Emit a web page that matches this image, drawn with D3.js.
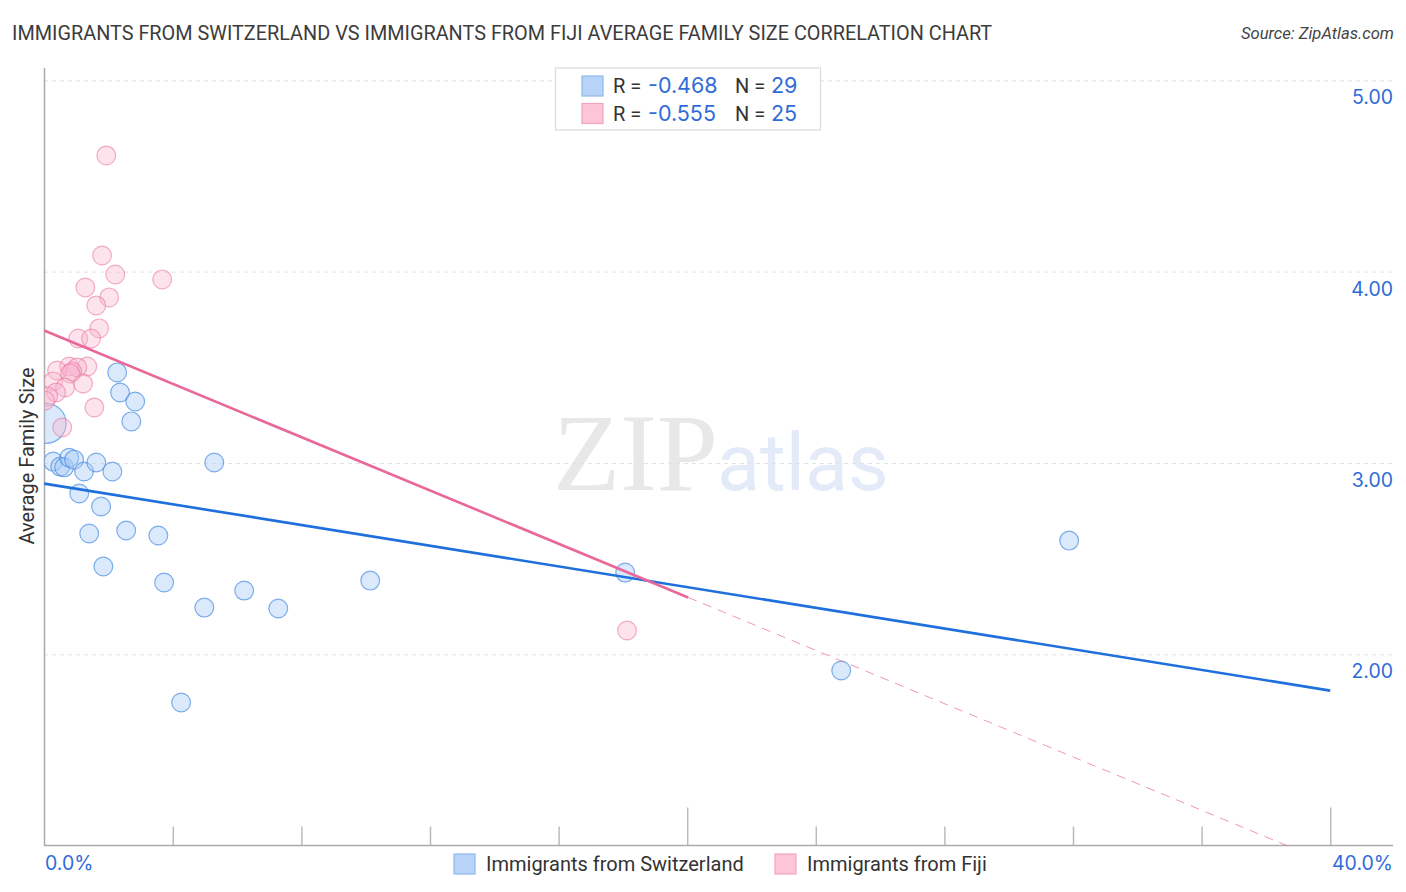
<!DOCTYPE html>
<html>
<head>
<meta charset="utf-8">
<script src="https://cdn.jsdelivr.net/npm/d3@7"></script>
<style>
  html, body { margin: 0; padding: 0; background: #fff; }
  text { font-family: Roboto, sans-serif; }
  .val { font-family: Inter, sans-serif; }
</style>
</head>
<body>
<div id="chart"></div>
<script>
const title = 'IMMIGRANTS FROM SWITZERLAND VS IMMIGRANTS FROM FIJI AVERAGE FAMILY SIZE CORRELATION CHART';
const source = 'Source: ZipAtlas.com';
const yLabel = 'Average Family Size';
const seriesNames = ['Immigrants from Switzerland', 'Immigrants from Fiji'];
const rValues = ['-0.468', '-0.555'];
const nValues = ['29', '25'];

const yTicks = [2, 3, 4, 5];
const xTicks = [0, 4, 8, 12, 16, 20, 24, 28, 32, 36, 40];

// percent, family size
const swissX = [0.06, 0.28, 0.5, 0.62, 0.78, 0.93, 1.24, 1.62, 2.12, 1.09, 1.77, 1.40, 2.55, 3.55, 1.84, 3.73, 4.98, 6.22, 7.28, 10.14, 5.29, 2.27, 2.36, 2.83, 2.71, 4.26, 18.07, 24.79, 31.88];
const swissY = [3.21, 3.01, 2.984, 2.98, 3.03, 3.02, 2.958, 3.005, 2.958, 2.843, 2.775, 2.634, 2.65, 2.624, 2.462, 2.378, 2.247, 2.336, 2.242, 2.388, 3.005, 3.476, 3.371, 3.324, 3.22, 1.751, 2.43, 1.918, 2.597];
const swissSize = [20, 9.4, 9.4, 9.4, 9.4, 9.4, 9.4, 9.4, 9.4, 9.4, 9.4, 9.4, 9.4, 9.4, 9.4, 9.4, 9.4, 9.4, 9.4, 9.4, 9.4, 9.4, 9.4, 9.4, 9.4, 9.4, 9.4, 9.4, 9.4];

const fijiX = [1.93, 1.80, 2.21, 3.67, 1.28, 2.02, 1.62, 1.71, 1.06, 1.46, 0.78, 1.34, 1.03, 0.87, 0.40, 0.81, 0.28, 1.21, 0.65, 0.37, 1.56, 0.56, 0.12, 0.03, 18.13];
const fijiY = [4.61, 4.087, 3.988, 3.962, 3.92, 3.868, 3.826, 3.706, 3.653, 3.653, 3.507, 3.507, 3.502, 3.481, 3.486, 3.47, 3.429, 3.418, 3.397, 3.371, 3.293, 3.188, 3.35, 3.329, 2.127];

const swissTrend = [[0, 2.895], [40, 1.813]];
const fijiTrend = [[0, 3.695], [20.03, 2.30]];
const fijiTrendDash = [[20.03, 2.30], [38.7, 1.0]];

const width = 1406, height = 892;
const blue = '#1f6fdc', pink = '#e9689a', tickBlue = '#2f6cd8';

const x = d3.scaleLinear().domain([0, 40]).range([44.2, 1330.2]);
const y = d3.scaleLinear().domain([1, 5]).range([846.2, 80.8]);

const svg = d3.select('#chart').append('svg')
  .attr('width', width)
  .attr('height', height)
  .style('display', 'block');

svg.append('text').attr('x', 12).attr('y', 40)
  .attr('font-size', 19.85).attr('fill', '#3c3c3c').text(title);
svg.append('text').attr('x', 1394).attr('y', 39)
  .attr('text-anchor', 'end').attr('font-size', 16.6).attr('font-style', 'italic')
  .attr('fill', '#444').text(source);

// watermark
svg.append('text').attr('x', 553).attr('y', 490)
  .style('font-family', 'Liberation Serif').attr('font-size', 110)
  .attr('fill', '#e8e8e8').text('ZIP');
svg.append('text').attr('x', 717).attr('y', 490)
  .attr('font-size', 79).attr('fill', '#e3ebf9').text('atlas');

// gridlines
svg.append('g').selectAll('line')
  .data(yTicks).enter().append('line')
  .attr('x1', 44).attr('x2', 1393)
  .attr('y1', d => y(d)).attr('y2', d => y(d))
  .attr('stroke', '#e2e2e2').attr('stroke-dasharray', '4 4');

// axes
const xAxis = d3.axisBottom(x).tickValues(xTicks.slice(1)).tickSize(-19).tickFormat('');
const gx = svg.append('g').attr('transform', 'translate(0,845.5)').call(xAxis);
gx.select('.domain').remove();
gx.selectAll('.tick line').attr('stroke', '#bbb').attr('stroke-width', 1.5);
gx.selectAll('.tick line').filter(d => d === 20 || d === 40).attr('y2', -38);
svg.append('line').attr('x1', 44).attr('x2', 1393).attr('y1', 845.5).attr('y2', 845.5)
  .attr('stroke', '#aaa').attr('stroke-width', 1.5);
svg.append('line').attr('x1', 44.5).attr('x2', 44.5).attr('y1', 68).attr('y2', 845.5)
  .attr('stroke', '#aaa').attr('stroke-width', 1.5);

const yAxis = d3.axisRight(y).tickValues(yTicks).tickSize(0).tickFormat(d3.format('.2f'));
const gy = svg.append('g').attr('transform', 'translate(1393,0)').call(yAxis);
gy.select('.domain').remove();
gy.selectAll('text').attr('x', 0).attr('dy', 0)
  .attr('transform', 'translate(0,23)')
  .attr('text-anchor', 'end').attr('font-size', 19.5).attr('class', 'val')
  .attr('font-weight', 400).attr('fill', tickBlue);

svg.append('text').attr('class', 'val').attr('x', 45).attr('y', 870).attr('font-size', 19.5)
  .attr('font-weight', 400).attr('fill', tickBlue).text('0.0%');
svg.append('text').attr('class', 'val').attr('x', 1393).attr('y', 870).attr('text-anchor', 'end')
  .attr('font-size', 19.5).attr('font-weight', 400).attr('fill', tickBlue).text('40.0%');

svg.append('text')
  .attr('transform', 'translate(34,456) rotate(-90)')
  .attr('text-anchor', 'middle').attr('font-size', 20).attr('fill', '#333').text(yLabel);

// points
svg.append('clipPath').attr('id', 'plot').append('rect')
  .attr('x', 44.5).attr('y', 60).attr('width', 1360).attr('height', 786);

const dots = svg.append('g').attr('clip-path', 'url(#plot)');
dots.selectAll('circle.swiss')
  .data(swissX).enter().append('circle').attr('class', 'swiss')
  .attr('cx', d => x(d))
  .attr('cy', (d, i) => y(swissY[i]))
  .attr('r', (d, i) => swissSize[i])
  .attr('fill', '#a8caf5').attr('fill-opacity', 0.42)
  .attr('stroke', '#3f85e0').attr('stroke-opacity', 0.65).attr('stroke-width', 1.2);
dots.selectAll('circle.fiji')
  .data(fijiX).enter().append('circle').attr('class', 'fiji')
  .attr('cx', d => x(d))
  .attr('cy', (d, i) => y(fijiY[i]))
  .attr('r', 9.4)
  .attr('fill', '#f8b6cc').attr('fill-opacity', 0.38)
  .attr('stroke', '#ea7ba3').attr('stroke-opacity', 0.6).attr('stroke-width', 1.2);

// trend lines
const line = d3.line().x(d => x(d[0])).y(d => y(d[1]));
svg.append('path').attr('d', line(swissTrend)).attr('fill', 'none')
  .attr('stroke', blue).attr('stroke-width', 2.6);
svg.append('path').attr('d', line(fijiTrend)).attr('fill', 'none')
  .attr('stroke', pink).attr('stroke-width', 2.6);
svg.append('path').attr('d', line(fijiTrendDash)).attr('fill', 'none')
  .attr('stroke', pink).attr('stroke-width', 1).attr('stroke-dasharray', '9 7').attr('stroke-opacity', 0.7);

// top legend
const legend = svg.append('g');
legend.append('rect').attr('x', 555.5).attr('y', 68).attr('width', 265).attr('height', 62)
  .attr('fill', '#fff').attr('stroke', '#d9d9d9').attr('stroke-width', 1.2);
const rows = legend.selectAll('g').data(seriesNames).enter().append('g')
  .attr('transform', (d, i) => 'translate(0,' + (i * 27.5) + ')');
rows.append('rect').attr('x', 582).attr('y', 76).attr('width', 21).attr('height', 20)
  .attr('fill', (d, i) => i ? '#fcc6d8' : '#b7d3f8')
  .attr('stroke', (d, i) => i ? '#f2a3bf' : '#8fb8ec').attr('stroke-width', 1.2);
rows.append('text').attr('x', 613).attr('y', 93).attr('font-size', 20).attr('fill', '#333').text('R =');
rows.append('text').attr('class', 'val').attr('x', 648).attr('y', 93).attr('font-size', 21.5)
  .attr('font-weight', 400).attr('fill', tickBlue).text((d, i) => rValues[i]);
rows.append('text').attr('x', 735).attr('y', 93).attr('font-size', 20).attr('fill', '#333').text('N =');
rows.append('text').attr('class', 'val').attr('x', 771).attr('y', 93).attr('font-size', 21.5)
  .attr('font-weight', 400).attr('fill', tickBlue).text((d, i) => nValues[i]);

// bottom legend
const bottomX = [454, 775];
const bottom = svg.append('g').selectAll('g').data(seriesNames).enter().append('g')
  .attr('transform', (d, i) => 'translate(' + bottomX[i] + ',0)');
bottom.append('rect').attr('x', 0).attr('y', 854).attr('width', 21).attr('height', 20)
  .attr('fill', (d, i) => i ? '#fcc6d8' : '#b7d3f8')
  .attr('stroke', (d, i) => i ? '#f2a3bf' : '#8fb8ec').attr('stroke-width', 1.2);
bottom.append('text').attr('x', 32).attr('y', 871).attr('font-size', 20)
  .attr('fill', '#333').text(d => d);
</script>
</body>
</html>
